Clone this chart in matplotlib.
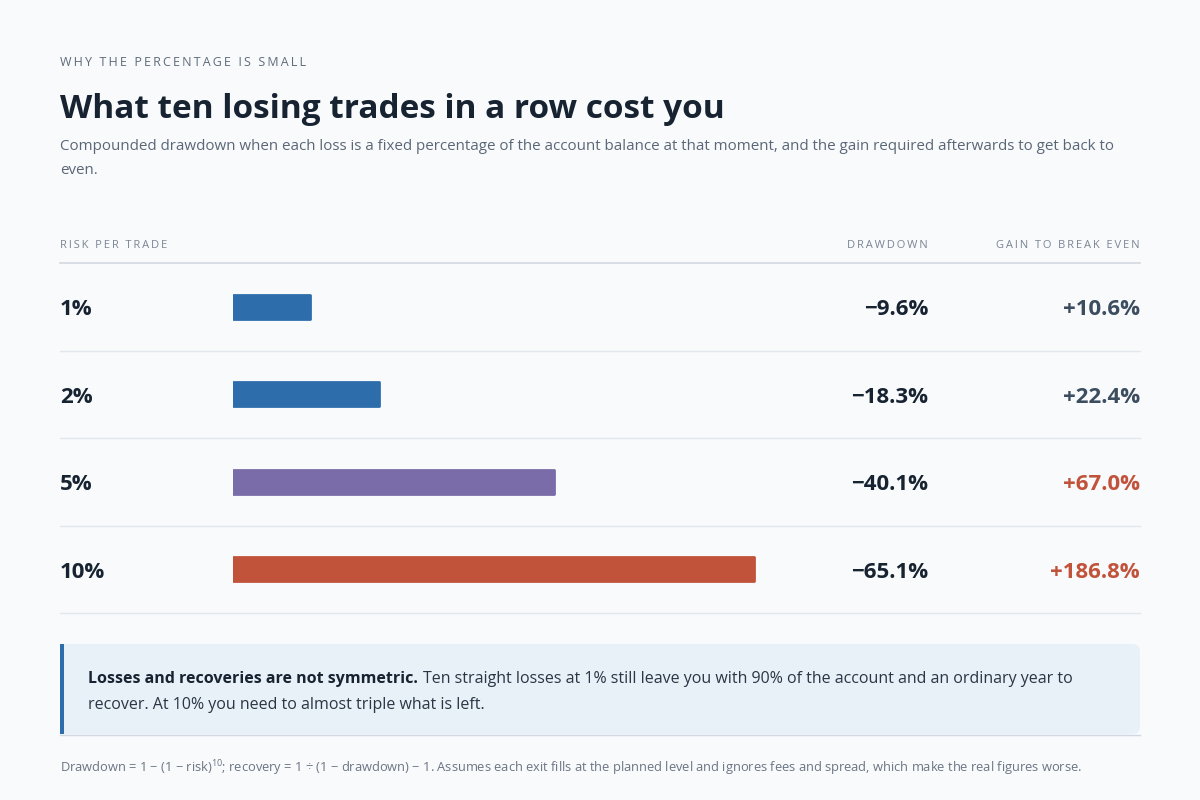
import matplotlib
matplotlib.use("Agg")
import matplotlib.pyplot as plt
from matplotlib import font_manager
from matplotlib.patches import FancyBboxPatch, Rectangle

# pick a family that really has a bold face installed
candidates = ["Noto Sans", "Open Sans", "Lato", "Inter", "Roboto", "Liberation Sans", "DejaVu Sans"]
family = "DejaVu Sans"
for fam in candidates:
    faces = [f for f in font_manager.fontManager.ttflist if f.name == fam]
    weights = [f.weight if isinstance(f.weight, int) else font_manager.weight_dict.get(f.weight, 400) for f in faces]
    if any(w >= 600 for w in weights) and any(w <= 450 for w in weights):
        family = fam
        break

plt.rcParams['font.family'] = [family, 'DejaVu Sans']
plt.rcParams['mathtext.fontset'] = 'custom'
plt.rcParams['mathtext.rm'] = family

# data
risk_labels = ["1%", "2%", "5%", "10%"]
drawdown = [9.6, 18.3, 40.1, 65.1]
gain = [10.6, 22.4, 67.0, 186.8]
bar_colors = ["#2e6dac", "#2e6dac", "#7a6ca8", "#c2533b"]
gain_colors = ["#3b4d5e", "#3b4d5e", "#c2533b", "#c2533b"]

BG = "#f8fafc"
fig = plt.figure(figsize=(12, 8), dpi=100, facecolor=BG)

# overlay in pixel coords for text and rules
ov = fig.add_axes([0, 0, 1, 1])
ov.set_xlim(0, 1200)
ov.set_ylim(800, 0)
ov.axis("off")
ov.set_facecolor("none")


def spaced(s):
    return "\u2009".join(s)


ov.text(60, 62, spaced("WHY THE PERCENTAGE IS SMALL"), fontsize=9, color="#5f6b7a",
        va="center", ha="left")
ov.text(60, 109, "What ten losing trades in a row cost you", fontsize=24, fontweight="bold",
        color="#172331", va="center", ha="left")
ov.text(60, 146, "Compounded drawdown when each loss is a fixed percentage of the account balance at that moment, "
        "and the gain required afterwards to get back to", fontsize=10.9, color="#5b6776", va="center")
ov.text(60, 171, "even.", fontsize=10.9, color="#5b6776", va="center")

# column headers
hdr = dict(fontsize=8, color="#7b8594", va="center")
ov.text(60, 246, spaced("RISK PER TRADE"), ha="left", **hdr)
ov.text(928, 246, spaced("DRAWDOWN"), ha="right", **hdr)
ov.text(1140, 246, spaced("GAIN TO BREAK EVEN"), ha="right", **hdr)
ov.plot([60, 1140], [263, 263], color="#d3d9e0", lw=1.2)

row_top = 263
row_h = 87.5
for i, lab in enumerate(risk_labels):
    yc = row_top + row_h * (i + 0.5) + 3
    ov.text(60, yc, lab, fontsize=16, fontweight="bold", color="#172331", va="center")
    ov.text(928, yc, "\u2212%.1f%%" % drawdown[i], fontsize=16, fontweight="bold",
            color="#172331", va="center", ha="right")
    ov.text(1140, yc, "+%.1f%%" % gain[i], fontsize=16, fontweight="bold",
            color=gain_colors[i], va="center", ha="right")
    ov.plot([60, 1140], [row_top + row_h * (i + 1)] * 2, color="#e3e8ee", lw=1)

# bars
bx = fig.add_axes([233 / 1200, (800 - 613) / 800, 800 / 1200, 350 / 800])
bx.set_xlim(0, 100)
bx.set_ylim(len(risk_labels) - 0.5, -0.5)
bx.axis("off")
bx.set_facecolor("none")
bx.barh(range(len(drawdown)), drawdown, height=0.27, color=bar_colors,
        edgecolor=bar_colors, linewidth=2, joinstyle="round")

# callout
ov.add_patch(FancyBboxPatch((60, 644), 1080, 90, boxstyle="round,pad=0,rounding_size=8",
                            facecolor="#e8f0f8", edgecolor="none"))
ov.add_patch(Rectangle((60, 644), 10, 90, facecolor="#e8f0f8", edgecolor="none"))
ov.add_patch(Rectangle((60, 644), 4, 90, facecolor="#2e6dac", edgecolor="none"))
ov.plot([60, 1140], [734.5, 734.5], color="#cfd8e3", lw=1)

b = ov.text(88, 679, "Losses and recoveries are not symmetric.", fontsize=11.5, fontweight="bold",
            color="#172331", va="center")
fig.canvas.draw()
ext = b.get_window_extent()
x_end = ov.transData.inverted().transform((ext.x1, ext.y0))[0]
ov.text(x_end + 5, 679, "Ten straight losses at 1% still leave you with 90% of the account and an ordinary year to",
        fontsize=11.5, color="#2b3644", va="center")
ov.text(88, 705, "recover. At 10% you need to almost triple what is left.",
        fontsize=11.5, color="#2b3644", va="center")

ov.text(60, 768, r"Drawdown = 1 $-$ (1 $-$ risk)$^{10}$; recovery = 1 $\div$ (1 $-$ drawdown) $-$ 1. "
        "Assumes each exit fills at the planned level and ignores fees and spread, which make the real figures worse.",
        fontsize=9.3, color="#6b7583", va="center")

fig.savefig("out.png", dpi=100, facecolor=BG)
